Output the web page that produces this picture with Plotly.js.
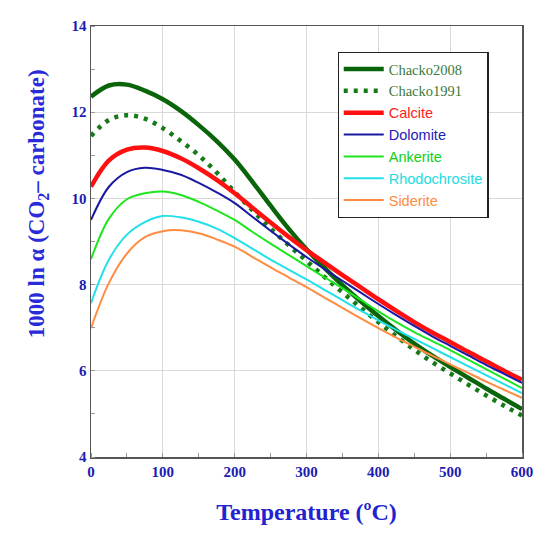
<!DOCTYPE html>
<html>
<head>
<meta charset="utf-8">
<script src="https://cdn.plot.ly/plotly-3.0.1.min.js"></script>
<style>html,body{margin:0;padding:0;background:#fff;}#chart{width:550px;height:544px;}</style>
</head>
<body>
<div id="chart"></div>
<script>
const temperature = [0, 25, 50, 75, 100, 125, 150, 175, 200, 225, 250, 275, 300, 325, 350, 375, 400, 425, 450, 475, 500, 525, 550, 575, 600];

const chacko2008 = [12.36, 12.62, 12.64, 12.5, 12.3, 12.03, 11.7, 11.33, 10.9, 10.38, 9.83, 9.3, 8.82, 8.39, 7.99, 7.62, 7.27, 6.94, 6.63, 6.35, 6.09, 5.84, 5.59, 5.35, 5.11];
const chacko1991 = [11.45, 11.82, 11.93, 11.85, 11.63, 11.33, 11.0, 10.6, 10.15, 9.72, 9.3, 8.92, 8.55, 8.18, 7.82, 7.47, 7.13, 6.8, 6.49, 6.2, 5.94, 5.68, 5.43, 5.19, 4.96];
const calcite = [10.27, 10.88, 11.13, 11.18, 11.1, 10.93, 10.7, 10.43, 10.12, 9.78, 9.44, 9.11, 8.8, 8.51, 8.22, 7.94, 7.66, 7.39, 7.13, 6.89, 6.67, 6.44, 6.22, 6.0, 5.79];
const dolomite = [9.5, 10.27, 10.61, 10.71, 10.66, 10.55, 10.36, 10.14, 9.89, 9.57, 9.25, 8.94, 8.64, 8.36, 8.09, 7.82, 7.55, 7.29, 7.04, 6.8, 6.58, 6.36, 6.14, 5.93, 5.72];
const ankerite = [8.59, 9.53, 9.98, 10.12, 10.16, 10.08, 9.92, 9.72, 9.5, 9.22, 8.95, 8.69, 8.43, 8.17, 7.92, 7.65, 7.38, 7.13, 6.9, 6.69, 6.48, 6.26, 6.04, 5.82, 5.6];
const rhodochrosite = [7.57, 8.58, 9.16, 9.45, 9.59, 9.56, 9.46, 9.3, 9.08, 8.83, 8.58, 8.35, 8.12, 7.88, 7.64, 7.4, 7.17, 6.95, 6.74, 6.53, 6.32, 6.11, 5.9, 5.69, 5.48];
const siderite = [6.99, 8.04, 8.72, 9.1, 9.24, 9.26, 9.19, 9.05, 8.88, 8.64, 8.4, 8.17, 7.94, 7.7, 7.46, 7.22, 6.99, 6.77, 6.56, 6.35, 6.15, 5.95, 5.75, 5.56, 5.37];

const seriesNames = ['Chacko2008', 'Chacko1991', 'Calcite', 'Dolomite', 'Ankerite', 'Rhodochrosite', 'Siderite'];
const xTickVals = [0, 100, 200, 300, 400, 500, 600];
const yTickVals = [4, 6, 8, 10, 12, 14];

const serif = '"Liberation Serif", "DejaVu Serif", serif';
const sans = '"Liberation Sans", Arial, sans-serif';

function lbl(name, color, family) {
  return '<span style="color:' + color + ';font-family:' + family + '">' + name + '</span>';
}

const specs = [
  {y: chacko2008, color: '#0a640a', width: 4.5, dash: 'solid', lc: '#3b7a3b', fam: 'Liberation Serif'},
  {y: chacko1991, color: '#167a16', width: 4.5, dash: '4px,6px', lc: '#3b7a3b', fam: 'Liberation Serif'},
  {y: calcite, color: '#ff1010', width: 4.5, dash: 'solid', lc: '#ff2020', fam: 'Liberation Sans'},
  {y: dolomite, color: '#1818a0', width: 2, dash: 'solid', lc: '#2020b8', fam: 'Liberation Sans'},
  {y: ankerite, color: '#1ee61e', width: 2, dash: 'solid', lc: '#10d010', fam: 'Liberation Sans'},
  {y: rhodochrosite, color: '#22e0e8', width: 2, dash: 'solid', lc: '#22dce0', fam: 'Liberation Sans'},
  {y: siderite, color: '#ff8c40', width: 2, dash: 'solid', lc: '#ff8c40', fam: 'Liberation Sans'}
];

const traces = specs.map((s, i) => ({
  x: temperature,
  y: s.y,
  type: 'scatter',
  mode: 'lines',
  name: lbl(seriesNames[i], s.lc, s.fam),
  line: {color: s.color, width: s.width, dash: s.dash, shape: 'spline', smoothing: 1}
}));

const tickFont = {family: serif, size: 15, color: '#1c1cb0', weight: 'bold'};

const layout = {
  width: 550,
  height: 544,
  margin: {l: 91, r: 28, t: 26, b: 87},
  paper_bgcolor: '#ffffff',
  plot_bgcolor: '#ffffff',
  showlegend: true,
  legend: {
    x: 0.572, y: 0.94, xanchor: 'left', yanchor: 'top',
    bgcolor: '#ffffff', bordercolor: '#222', borderwidth: 1.2,
    font: {size: 14.5, family: sans},
    itemwidth: 40, tracegroupgap: 0
  },
  xaxis: {
    range: [0, 600],
    tickvals: xTickVals,
    ticktext: xTickVals.map(String),
    showgrid: true, gridcolor: '#d9d9d9', gridwidth: 1,
    showline: true, linecolor: '#555', linewidth: 1.5, mirror: true,
    ticks: '', zeroline: false,
    tickfont: tickFont,
    minor: {dtick: 50, tick0: 0, ticks: 'inside', ticklen: 4, tickcolor: '#999', showgrid: false},
    title: {text: 'Temperature (ºC)', font: {family: serif, size: 24, color: '#2222d0', weight: 'bold'}, standoff: 24}
  },
  yaxis: {
    range: [4, 14],
    tickvals: yTickVals,
    ticktext: yTickVals.map(String),
    showgrid: true, gridcolor: '#d9d9d9', gridwidth: 1,
    showline: true, linecolor: '#555', linewidth: 1.5, mirror: true,
    ticks: '', zeroline: false,
    tickfont: tickFont,
    minor: {dtick: 1, tick0: 4, ticks: 'inside', ticklen: 4, tickcolor: '#999', showgrid: false}
  },
  annotations: [{
    text: '1000 ln α (CO<sub>2</sub>– carbonate)',
    xref: 'paper', yref: 'paper',
    x: -0.123, y: 0.589,
    xanchor: 'center', yanchor: 'middle',
    textangle: -90, showarrow: false,
    font: {family: serif, size: 23, color: '#2a2ad8', weight: 'bold'}
  }]
};

Plotly.newPlot('chart', traces, layout, {displayModeBar: false, staticPlot: true});
</script>
</body>
</html>
